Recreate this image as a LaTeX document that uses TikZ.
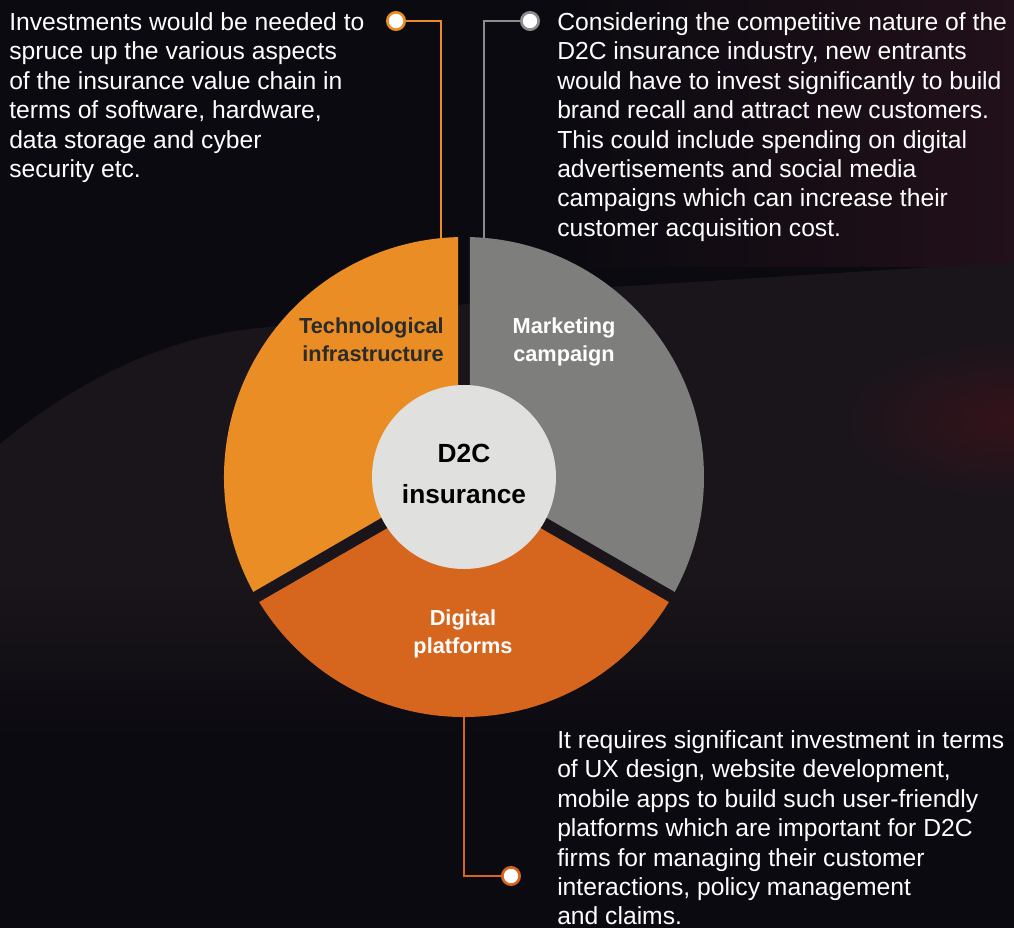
\documentclass[tikz,border=0pt]{standalone}
\usepackage{fontspec}
\setmainfont{Liberation Sans}
\usetikzlibrary{calc}
\definecolor{bgdark}{HTML}{0B0A10}
\definecolor{bgmist}{HTML}{1A151B}
\definecolor{bgred}{HTML}{22101A}
\definecolor{glowred}{HTML}{34121A}
\definecolor{techorange}{HTML}{E98D24}
\definecolor{digorange}{HTML}{D6651E}
\definecolor{mktgray}{HTML}{7E7E7C}
\definecolor{mktline}{HTML}{8C8C8C}
\definecolor{hubgray}{HTML}{E0E0DF}
\definecolor{darktext}{HTML}{2B2B2B}
\begin{document}
\begin{tikzpicture}
	[x=0.75pt,y=-0.75pt,
	 note/.style={anchor=north west,inner sep=0pt,align=left,text=white,font=\fontsize{18.5}{22.1}\selectfont},
	 seg label/.style={inner sep=0pt,font=\bfseries\fontsize{16.3}{21}\selectfont},
	 hub/.style={circle,fill=hubgray,inner sep=0pt,minimum size=138pt},
	 hub text/.style={inner sep=0pt,align=center,font=\bfseries\fontsize{19.7}{30.7}\selectfont},
	 dot/.style={circle,fill=white,draw=#1,line width=2pt,minimum size=13pt,inner sep=0pt},
	 link/.style={draw=#1,line width=1.5pt}]
	\useasboundingbox (0,0) rectangle (1014,928);
	\begin{scope}
		\clip (0,0) rectangle (1014,928);
		\fill[bgdark] (0,0) rectangle (1014,928);
		\shade[left color=bgdark,right color=bgred] (560,0) rectangle (1014,266);
		\fill[bgmist] (0,444) .. controls (90,370) and (180,335) .. (260,328)
			-- (614,287) -- (1014,262) -- (1014,580) -- (0,580) -- cycle;
		\shade[top color=bgmist,bottom color=bgdark] (0,579) rectangle (1014,740);
		\shade[inner color=glowred,outer color=bgmist] (1010,420) ellipse (170 and 80);
	\end{scope}

	\coordinate (c) at (464,477);
	\coordinate (tech top) at ($(c)+(-95.5:240)$);
	\coordinate (mkt top) at ($(c)+(-85.2:240)$);
	\coordinate (dig bottom) at ($(c)+(90:240)$);

	\node[dot=techorange] (tech dot) at (396,21) {};
	\node[dot=mktline] (mkt dot) at (530,21) {};
	\node[dot=digorange] (dig dot) at (511,876) {};
	\draw[link=techorange] (tech top) |- (tech dot);
	\draw[link=mktline] (mkt top) |- (mkt dot);
	\draw[link=digorange] (dig bottom) |- (dig dot);

	\fill[techorange] ($(c)+(210:7)$) -- ($(c)+(151.4:240)$)
		arc[start angle=151.4,end angle=268.6,radius=240] -- cycle;
	\fill[mktgray] ($(c)+(-30:7)$) -- ($(c)+(-88.6:240)$)
		arc[start angle=-88.6,end angle=28.6,radius=240] -- cycle;
	\fill[digorange] ($(c)+(90:7)$) -- ($(c)+(31.4:240)$)
		arc[start angle=31.4,end angle=148.6,radius=240] -- cycle;
	\node[hub] (hub) at (c) {};
	\node[hub text] (hub label) at ($(c)+(0,-3)$) {D2C\\insurance};

	\node[seg label,anchor=north east,align=right,text=darktext] (tech label) at (444,317) {Technological\\infrastructure};
	\node[seg label,anchor=north,align=center,text=white] (mkt label) at (564,317) {Marketing\\campaign};
	\node[seg label,anchor=north,align=center,text=white] (dig label) at (463,609) {Digital\\platforms};

	\node[note] (tech note) at (9,12) {Investments would be needed to\\spruce up the various aspects\\of the insurance value chain in\\terms of software, hardware,\\data storage and cyber\\security etc.};
	\node[note] (mkt note) at (557,12) {Considering the competitive nature of the\\D2C insurance industry, new entrants\\would have to invest significantly to build\\brand recall and attract new customers.\\This could include spending on digital\\advertisements and social media\\campaigns which can increase their\\customer acquisition cost.};
	\node[note] (dig note) at (557,730) {It requires significant investment in terms\\of UX design, website development,\\mobile apps to build such user-friendly\\platforms which are important for D2C\\firms for managing their customer\\interactions, policy management\\and claims.};
\end{tikzpicture}
\end{document}
